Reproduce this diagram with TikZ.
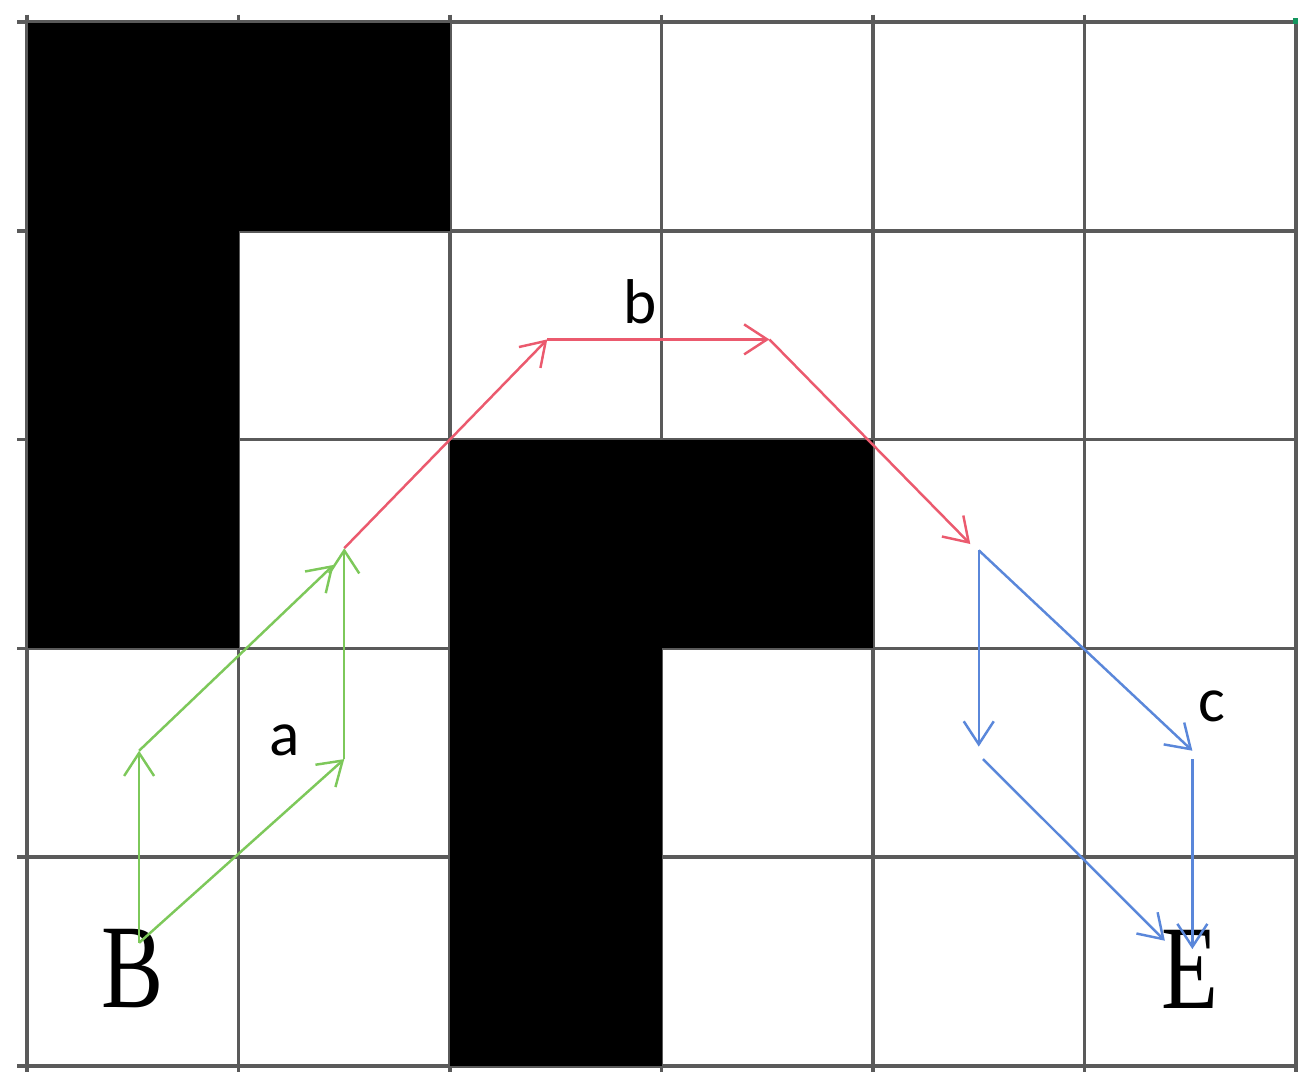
\documentclass[tikz,border=0pt]{standalone}
\usepackage{fontspec}
\setmainfont{Liberation Serif}
\newfontfamily\labelfont{Carlito}
\usepackage{tikz}
\usetikzlibrary{arrows.meta}
\definecolor{gridgray}{RGB}{90, 90, 90}
\definecolor{pathgreen}{RGB}{125, 200, 90}
\definecolor{pathred}{RGB}{235, 90, 110}
\definecolor{pathblue}{RGB}{90, 135, 218}
\definecolor{markgreen}{RGB}{20, 150, 95}
\newcommand{\narrowletter}[1]{\scalebox{0.78}[1]{#1}}

\begin{document}
\begin{tikzpicture}[x={(2.115cm,0)},y={(0,-2.088cm)},
    gridline/.style={gridgray,line width=1pt},
    move/.style={line width=0.7pt,-{Straight Barb[length=2.3mm,width=3mm]}},
    endpoint/.style={inner sep=0pt,font=\fontsize{34}{34}\selectfont},
    pathlabel/.style={inner sep=0pt,font=\labelfont\fontsize{18}{18}\selectfont}]
            \useasboundingbox (-0.1277,-0.1054) rectangle (6.0615,5.12);

            % grid
            \draw[gridline] (-0.045,0) -- (6,0);
            \draw[gridline] (-0.045,1) -- (6,1);
            \draw[gridline] (-0.045,2) -- (6,2);
            \draw[gridline] (-0.045,3) -- (6,3);
            \draw[gridline] (-0.045,4) -- (6,4);
            \draw[gridline] (-0.045,5) -- (6,5);
            \draw[gridline] (0,-0.035) -- (0,5.03);
            \draw[gridline] (1,-0.035) -- (1,5.03);
            \draw[gridline] (2,-0.035) -- (2,5.03);
            \draw[gridline] (3,-0.035) -- (3,5.03);
            \draw[gridline] (4,-0.035) -- (4,5.03);
            \draw[gridline] (5,-0.035) -- (5,5.03);
            \draw[gridline] (6,-0.015) -- (6,5.03);
            \fill[markgreen] (5.985,-0.02) rectangle (6.01,0.01);

            % obstacles
            \fill[black] (0.005,0.005) rectangle (2,1);
            \fill[black] (0.005,1) rectangle (1,3);
            \fill[black] (2,2) rectangle (4,3);
            \fill[black] (2,3) rectangle (3,5);

            % way points
            \coordinate (g0) at (0.53,4.41);
            \coordinate (g1) at (0.53,3.49);
            \coordinate (g2) at (1.45,2.6);
            \coordinate (g3) at (1.5,3.53);
            \coordinate (r0) at (1.5,2.52);
            \coordinate (r1) at (2.46,1.52);
            \coordinate (r2) at (3.51,1.52);
            \coordinate (r3) at (4.46,2.5);
            \coordinate (c0) at (4.5,2.53);
            \coordinate (c1) at (4.5,3.47);
            \coordinate (c2) at (5.51,3.49);
            \coordinate (c3) at (4.52,3.53);
            \coordinate (c4) at (5.38,4.4);
            \coordinate (c5) at (5.51,3.53);
            \coordinate (c6) at (5.51,4.44);

            \node[endpoint] (start) at (0.50,4.535) {\narrowletter{B}};
            \node[endpoint] (goal) at (5.50,4.535) {\narrowletter{E}};
            \node[pathlabel] (la) at (1.22,3.44) {a};
            \node[pathlabel] (lb) at (2.90,1.34) {b};
            \node[pathlabel] (lc) at (5.60,3.28) {c};

            % a
            \draw[move,pathgreen] (g0) -- (g1);
            \draw[move,pathgreen] (g1) -- (g2);
            \draw[move,pathgreen] (g0) -- (g3);
            \draw[move,pathgreen] (g3) -- (r0);
            % b
            \draw[move,pathred] (r0) -- (r1);
            \draw[move,pathred] (r1) -- (r2);
            \draw[move,pathred] (r2) -- (r3);
            % c
            \draw[move,pathblue] (c0) -- (c1);
            \draw[move,pathblue] (c0) -- (c2);
            \draw[move,pathblue] (c3) -- (c4);
            \draw[move,pathblue] (c5) -- (c6);
        \end{tikzpicture}
\end{document}
